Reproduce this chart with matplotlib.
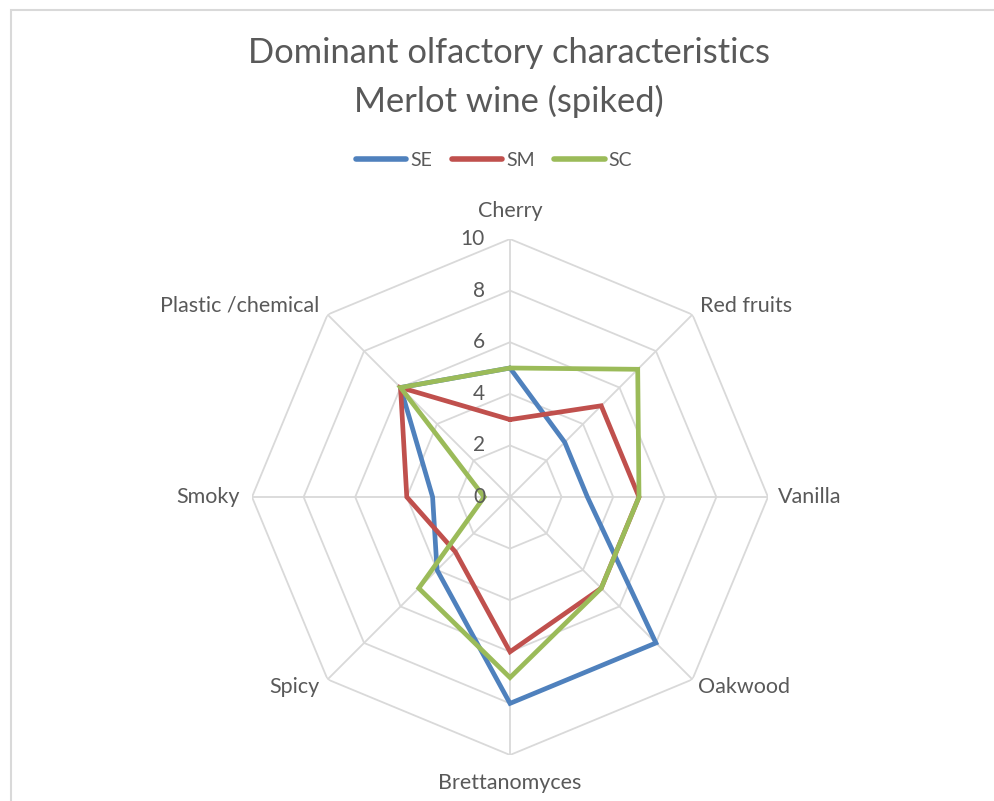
import numpy as np
import matplotlib
matplotlib.use("Agg")
import matplotlib.pyplot as plt
from matplotlib.patches import Rectangle

categories = ["Cherry", "Red fruits", "Vanilla", "Oakwood", "Brettanomyces",
              "Spicy", "Smoky", "Plastic /chemical"]
se_values = [5, 3, 3, 8, 8, 4, 3, 6]
sm_values = [3, 5, 5, 5, 6, 3, 4, 6]
sc_values = [5, 7, 5, 5, 7, 5, 1, 6]
series_names = ["SE", "SM", "SC"]
ticks = [0, 2, 4, 6, 8, 10]

colors = ["#4F81BD", "#C0504D", "#9BBB59"]
grid_color = "#D9D9D9"
text_color = "#595959"
font = "Lato"

W, H = 994, 801
fig = plt.figure(figsize=(W / 100, H / 100), dpi=100)
fig.patch.set_facecolor("white")

# chart frame (only top/left visible)
fig.patches.append(Rectangle((11 / W, -0.05), 1.2, (H - 10) / H + 0.05,
                             transform=fig.transFigure, fill=False,
                             edgecolor="#D9D9D9", linewidth=1.5))

cx, cy, R = 510, 497, 258
ax = fig.add_axes([(cx - R) / W, (H - cy - R) / H, 2 * R / W, 2 * R / H],
                  projection="polar")
ax.set_theta_offset(np.pi / 2)
ax.set_theta_direction(-1)
ax.set_ylim(0, 10)
ax.grid(False)
ax.spines["polar"].set_visible(False)
ax.set_xticks([])
ax.set_yticks([])
ax.patch.set_alpha(0)

n = len(categories)
angles = np.linspace(0, 2 * np.pi, n, endpoint=False)
closed = np.concatenate([angles, angles[:1]])

for t in ticks[1:]:
    ax.plot(closed, [t] * (n + 1), color=grid_color, lw=1.3, zorder=1)
for a in angles:
    ax.plot([a, a], [0, 10], color=grid_color, lw=1.3, zorder=1)

for vals, c, name in zip([se_values, sm_values, sc_values], colors, series_names):
    v = list(vals) + [vals[0]]
    ax.plot(closed, v, color=c, lw=3.4, label=name, zorder=3,
            solid_joinstyle="miter", solid_capstyle="round")

for t in ticks:
    ax.annotate(str(t), xy=(0, t), xytext=(-25, 0), textcoords="offset pixels",
                ha="right", va="center", fontsize=15, color=text_color,
                family=font, annotation_clip=False)

label_cfg = [
    ((0, 28), "center"),
    ((8, 9), "left"),
    ((10, 0), "left"),
    ((6, -8), "left"),
    ((0, -28), "center"),
    ((-8, -8), "right"),
    ((-12, 0), "right"),
    ((-8, 9), "right"),
]
for a, lab, (off, ha) in zip(angles, categories, label_cfg):
    ax.annotate(lab, xy=(a, 10), xytext=off, textcoords="offset pixels",
                ha=ha, va="center", fontsize=15.5, color=text_color,
                family=font, annotation_clip=False)

fig.text(cx / W - 0.001, 1 - 53 / H, "Dominant olfactory characteristics",
         ha="center", va="center", fontsize=24.8, color=text_color, family=font)
fig.text(cx / W - 0.001, 1 - 101 / H, "Merlot wine (spiked)",
         ha="center", va="center", fontsize=24.8, color=text_color, family=font)

handles, labels = ax.get_legend_handles_labels()
leg = fig.legend(handles, labels, loc="center", bbox_to_anchor=(494 / W, 1 - 160 / H),
                 ncol=3, frameon=False, handlelength=2.6, handletextpad=0.2,
                 columnspacing=1.0, prop={"family": font, "size": 14})
for t in leg.get_texts():
    t.set_color(text_color)
for l in leg.get_lines():
    l.set_linewidth(4)

fig.savefig("out.png", dpi=100, facecolor="white")
